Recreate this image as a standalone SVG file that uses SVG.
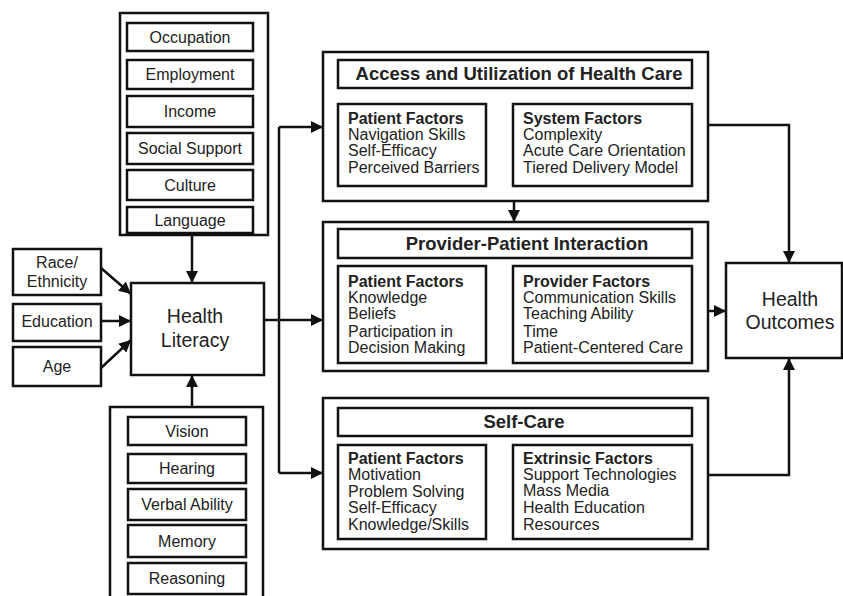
<svg xmlns="http://www.w3.org/2000/svg" width="843" height="596" viewBox="0 0 843 596">
<defs>
<marker id="ah" viewBox="0 0 10 10" refX="10" refY="5" markerWidth="12" markerHeight="12" markerUnits="userSpaceOnUse" orient="auto">
<path d="M0,0 L10,5 L0,10 Z" fill="#111"/>
</marker>
<style>
rect{fill:#fff;stroke:#111;stroke-width:2.5}
text{font-family:"Liberation Sans",Arial,sans-serif;fill:#222}
.c{text-anchor:middle;font-size:16px}
.big{text-anchor:middle;font-size:19.5px}
.t{text-anchor:middle;font-size:18.5px;font-weight:bold}
.h{font-size:16px;font-weight:bold}
.l{font-size:16px}
.cn{fill:none;stroke:#111;stroke-width:2.5}
.ar{marker-end:url(#ah)}
</style>
</defs>
<rect x="0" y="0" width="843" height="596" style="fill:#fff;stroke:none"/>

<g id="environment">
<rect x="120" y="13" width="148" height="222"/>
<g id="occupation"><rect x="127" y="23" width="126" height="28"/><text class="c" x="190" y="43">Occupation</text></g>
<g id="employment"><rect x="127" y="60" width="126" height="29"/><text class="c" x="190" y="80">Employment</text></g>
<g id="income"><rect x="127" y="96" width="126" height="31"/><text class="c" x="190" y="117">Income</text></g>
<g id="social-support"><rect x="127" y="133" width="126" height="31"/><text class="c" x="190" y="154">Social Support</text></g>
<g id="culture"><rect x="127" y="170" width="126" height="30"/><text class="c" x="190" y="191">Culture</text></g>
<g id="language"><rect x="127" y="207" width="126" height="26"/><text class="c" x="190" y="226">Language</text></g>
</g>

<g id="race"><rect x="13" y="249" width="88" height="46"/><text class="c" x="57" y="268">Race/</text><text class="c" x="57" y="287">Ethnicity</text></g>
<g id="education"><rect x="13" y="304" width="88" height="37"/><text class="c" x="57" y="327">Education</text></g>
<g id="age"><rect x="13" y="347" width="88" height="39"/><text class="c" x="57" y="372">Age</text></g>

<g id="health-literacy"><rect x="131" y="283" width="133" height="92"/><text class="big" x="195" y="323">Health</text><text class="big" x="195" y="347">Literacy</text></g>

<g id="abilities">
<rect x="110" y="407" width="153" height="200"/>
<g id="vision"><rect x="128" y="417" width="118" height="28"/><text class="c" x="187" y="437">Vision</text></g>
<g id="hearing"><rect x="128" y="454" width="118" height="29"/><text class="c" x="187" y="474">Hearing</text></g>
<g id="verbal-ability"><rect x="128" y="489" width="118" height="31"/><text class="c" x="187" y="510">Verbal Ability</text></g>
<g id="memory"><rect x="128" y="525" width="118" height="32"/><text class="c" x="187" y="547">Memory</text></g>
<g id="reasoning"><rect x="128" y="563" width="118" height="31"/><text class="c" x="187" y="584">Reasoning</text></g>
</g>

<g id="access">
<rect x="323" y="52" width="385" height="149"/>
<rect x="338" y="60" width="354" height="28"/>
<text class="t" x="519" y="80">Access and Utilization of Health Care</text>
<rect x="338" y="104" width="148" height="82"/>
<text class="h" x="348" y="124">Patient Factors</text>
<text class="l" x="348" y="140">Navigation Skills</text>
<text class="l" x="348" y="156">Self-Efficacy</text>
<text class="l" x="348" y="173">Perceived Barriers</text>
<rect x="513" y="104" width="179" height="82"/>
<text class="h" x="523" y="124">System Factors</text>
<text class="l" x="523" y="140">Complexity</text>
<text class="l" x="523" y="156">Acute Care Orientation</text>
<text class="l" x="523" y="173">Tiered Delivery Model</text>
</g>

<g id="provider-patient">
<rect x="323" y="222" width="385" height="149"/>
<rect x="338" y="229" width="354" height="29"/>
<text class="t" x="527" y="250">Provider-Patient Interaction</text>
<rect x="338" y="266" width="148" height="97"/>
<text class="h" x="348" y="287">Patient Factors</text>
<text class="l" x="348" y="303">Knowledge</text>
<text class="l" x="348" y="319">Beliefs</text>
<text class="l" x="348" y="337">Participation in</text>
<text class="l" x="348" y="353">Decision Making</text>
<rect x="513" y="266" width="179" height="97"/>
<text class="h" x="523" y="287">Provider Factors</text>
<text class="l" x="523" y="303">Communication Skills</text>
<text class="l" x="523" y="319">Teaching Ability</text>
<text class="l" x="523" y="337">Time</text>
<text class="l" x="523" y="353">Patient-Centered Care</text>
</g>

<g id="self-care">
<rect x="323" y="398" width="385" height="151"/>
<rect x="338" y="408" width="354" height="28"/>
<text class="t" x="524" y="428">Self-Care</text>
<rect x="338" y="445" width="148" height="94"/>
<text class="h" x="348" y="464">Patient Factors</text>
<text class="l" x="348" y="480">Motivation</text>
<text class="l" x="348" y="497">Problem Solving</text>
<text class="l" x="348" y="513">Self-Efficacy</text>
<text class="l" x="348" y="530">Knowledge/Skills</text>
<rect x="513" y="445" width="179" height="94"/>
<text class="h" x="523" y="464">Extrinsic Factors</text>
<text class="l" x="523" y="480">Support Technologies</text>
<text class="l" x="523" y="496">Mass Media</text>
<text class="l" x="523" y="513">Health Education</text>
<text class="l" x="523" y="530">Resources</text>
</g>

<g id="health-outcomes"><rect x="726" y="263" width="116" height="95"/><text class="big" x="790" y="306">Health</text><text class="big" x="790" y="329">Outcomes</text></g>

<g id="connectors">
<line class="cn ar" x1="192" y1="235" x2="192" y2="283"/>
<line class="cn ar" x1="192" y1="407" x2="192" y2="375"/>
<line class="cn ar" x1="101" y1="268" x2="131" y2="294"/>
<line class="cn ar" x1="101" y1="321" x2="131" y2="321"/>
<line class="cn ar" x1="101" y1="368" x2="131" y2="340"/>
<polyline class="cn" points="264,320 279,320"/>
<polyline class="cn" points="279,127 279,473"/>
<line class="cn ar" x1="279" y1="127" x2="323" y2="127"/>
<line class="cn ar" x1="279" y1="320" x2="323" y2="320"/>
<line class="cn ar" x1="279" y1="473" x2="323" y2="473"/>
<line class="cn ar" x1="514" y1="201" x2="514" y2="222"/>
<polyline class="cn ar" points="708,125 789,125 789,263"/>
<line class="cn ar" x1="708" y1="311" x2="726" y2="311"/>
<polyline class="cn ar" points="708,475 789,475 789,358"/>
</g>
</svg>
